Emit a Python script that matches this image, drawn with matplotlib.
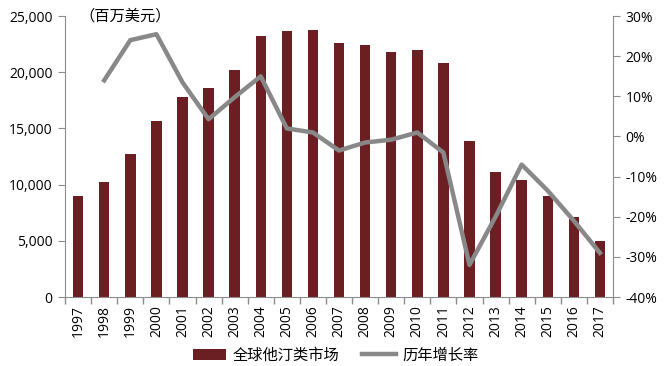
import matplotlib
matplotlib.use("Agg")
import matplotlib.pyplot as plt
import numpy as np
from matplotlib.ticker import FuncFormatter, FixedLocator

plt.rcParams['font.family'] = ['Open Sans', 'Noto Sans CJK SC', 'DejaVu Sans']

years = [str(y) for y in range(1997, 2018)]
market = [9000, 10200, 12700, 15700, 17800, 18600, 20200, 23200, 23700, 23750,
          22600, 22400, 21800, 21950, 20800, 13900, 11100, 10400, 9000, 7100, 5000]
growth = [None, 14, 24, 25.5, 13.5, 4.3, 9.8, 15, 2, 1,
          -3.5, -1.5, -0.8, 1, -4, -32, -20, -7, -13.5, -21, -29]

bar_color = '#6B1F23'
line_color = '#888888'
spine_color = '#8C8C8C'

fig = plt.figure(figsize=(6.71, 3.66), dpi=100)
ax = fig.add_axes([0.097, 0.1885, 0.8165, 0.7675])
x = np.arange(len(years))
bars = ax.bar(x, market, width=0.4, color=bar_color, label='全球他汀类市场', zorder=2)
ax.set_xlim(-0.5, len(years) - 0.5)
ax.set_ylim(0, 25000)
ax.set_yticks(range(0, 25001, 5000))
ax.yaxis.set_major_formatter(FuncFormatter(lambda v, p: f'{int(v):,}'))
ax.set_xticks(x)
ax.set_xticklabels(years, rotation=90, fontsize=10)
ax.tick_params(axis='x', which='major', length=0, pad=6)
ax.xaxis.set_minor_locator(FixedLocator(np.arange(-0.5, len(years), 1.0)))
ax.tick_params(axis='x', which='minor', length=5, color=spine_color, width=1)
ax.tick_params(axis='y', length=5, color=spine_color, labelsize=10, pad=4)
for s in ['top', 'right']:
    ax.spines[s].set_visible(False)
for s in ['left', 'bottom']:
    ax.spines[s].set_color(spine_color)

ax2 = ax.twinx()
gx = [i for i, g in enumerate(growth) if g is not None]
gy = [g for g in growth if g is not None]
line, = ax2.plot(gx, gy, color=line_color, lw=3.2, label='历年增长率', zorder=3)
ax2.set_ylim(-40, 30)
ax2.set_yticks(range(-40, 31, 10))
ax2.yaxis.set_major_formatter(FuncFormatter(lambda v, p: f'{int(v)}%'))
ax2.tick_params(axis='y', length=5, color=spine_color, labelsize=10, pad=4)
for s in ['top', 'left', 'bottom']:
    ax2.spines[s].set_visible(False)
ax2.spines['right'].set_color(spine_color)

fig.text(0.118, 0.955, '（百万美元）', fontsize=11, va='center', ha='left',
         family=['Noto Sans CJK SC', 'DejaVu Sans'])

fig.legend([bars, line], ['全球他汀类市场', '历年增长率'], loc='center',
           bbox_to_anchor=(0.5, 0.03), ncol=2, frameon=False,
           prop={'family': ['Noto Sans CJK SC', 'DejaVu Sans'], 'size': 11},
           handlelength=2.2, columnspacing=1.5, handletextpad=0.4)

fig.savefig('out.png', dpi=100)
